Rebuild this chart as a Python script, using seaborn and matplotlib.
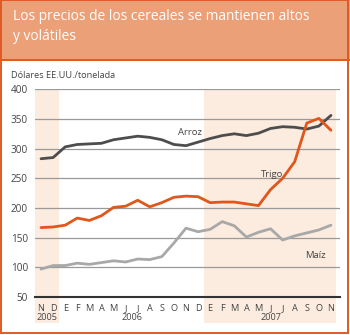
import numpy as np
import pandas as pd
import matplotlib
matplotlib.use("Agg")
import matplotlib.pyplot as plt
import seaborn as sns
from matplotlib.patches import Rectangle

months = ["N", "D", "E", "F", "M", "A", "M", "J", "J", "A", "S", "O", "N",
          "D", "E", "F", "M", "A", "M", "J", "J", "A", "S", "O", "N"]
arroz = [283, 285, 303, 307, 308, 309, 315, 318, 321, 319, 315, 307, 305,
         311, 317, 322, 325, 322, 326, 334, 337, 336, 333, 338, 356]
trigo = [167, 168, 171, 183, 179, 187, 201, 203, 213, 202, 209, 218, 220,
         219, 209, 210, 210, 207, 204, 231, 250, 278, 343, 351, 331]
maiz = [97, 103, 103, 107, 105, 108, 111, 109, 114, 113, 118, 141, 166,
        160, 164, 177, 170, 151, 159, 165, 146, 153, 158, 163, 171]
years = ["2005", "2006", "2007"]
series_names = ["Arroz", "Trigo", "Maíz"]
yticks = [50, 100, 150, 200, 250, 300, 350, 400]

idx = np.arange(len(months))
df = pd.DataFrame({
    "mes": np.concatenate([idx, idx, idx]),
    "valor": arroz + trigo + maiz,
    "serie": np.repeat(series_names, len(months)),
})

sns.set_theme(style="white")
plt.rcParams["font.family"] = ["Open Sans", "DejaVu Sans"]

fig = plt.figure(figsize=(3.5, 3.35), dpi=100)
fig.patch.set_facecolor("white")

# Title band
fig.add_artist(Rectangle((0, 1 - 59 / 335), 1, 59 / 335, transform=fig.transFigure,
                         facecolor="#EBA078", edgecolor="none", zorder=0))
fig.add_artist(Rectangle((0, 1 - 61 / 335), 1, 2 / 335, transform=fig.transFigure,
                         facecolor="#E05A24", edgecolor="none", zorder=1))
# outer frame
fig.add_artist(Rectangle((0.5 / 350, 2 / 335), 347 / 350, 1 - 2 / 335 - 0.5 / 335,
                         transform=fig.transFigure, facecolor="none",
                         edgecolor="#E05A24", linewidth=1.4, zorder=2))
fig.text(13 / 350, 1 - 17 / 335, "Los precios de los cereales se mantienen altos",
         color="white", fontsize=9.9, va="center", ha="left")
fig.text(13 / 350, 1 - 37 / 335, "y volátiles",
         color="white", fontsize=9.9, va="center", ha="left")
fig.text(11 / 350, 1 - 76 / 335, "Dólares EE.UU./tonelada",
         color="#444444", fontsize=6.6, va="center", ha="left")

ax = fig.add_axes([35 / 350, 1 - 297 / 335, 305 / 350, (297 - 89.3) / 335])
ax.set_facecolor("none")

ax.set_xlim(-0.5, 24.75)
ax.set_ylim(50, 400)

# shaded periods
for x0, x1 in [(-0.5, 1.5), (13.5, 24.45)]:
    ax.axvspan(x0, x1, ymin=-0.125, ymax=1.0, facecolor="#FCEBDF",
               edgecolor="none", clip_on=False, zorder=0)

for y in yticks[1:]:
    ax.axhline(y, color="#9A9A9A", linewidth=0.9, zorder=1)

palette = {"Arroz": "#4D4D4D", "Trigo": "#E0561B", "Maíz": "#A8A8A8"}
sns.lineplot(data=df, x="mes", y="valor", hue="serie", palette=palette,
             linewidth=2.0, legend=False, ax=ax, zorder=3)

ax.set_xlabel("")
ax.set_ylabel("")
ax.set_yticks(yticks)
ax.set_yticklabels([str(v) for v in yticks], fontsize=7.2, color="#444444")
ax.set_xticks(idx)
ax.set_xticklabels(months, fontsize=6.6, color="#444444")
ax.tick_params(axis="x", direction="in", length=4, width=1.1, color="#333333", pad=5)
ax.tick_params(axis="y", length=0, pad=5)

for side in ["top", "right", "left"]:
    ax.spines[side].set_visible(False)
ax.spines["bottom"].set_color("#333333")
ax.spines["bottom"].set_linewidth(1.5)
ax.spines["bottom"].set_zorder(4)

# year labels
trans = ax.get_xaxis_transform()
for yr, xc in zip(years, [0.5, 7.5, 19.0]):
    ax.text(xc, -0.1, yr, transform=trans, ha="center", va="center",
            fontsize=6.6, color="#444444")

# series labels
ax.text(12.3, 327, "Arroz", fontsize=6.8, color="#444444", ha="center", va="center")
ax.text(19.1, 257, "Trigo", fontsize=6.8, color="#444444", ha="center", va="center")
ax.text(22.7, 120, "Maíz", fontsize=6.8, color="#444444", ha="center", va="center")

fig.savefig("out.png", dpi=100)
